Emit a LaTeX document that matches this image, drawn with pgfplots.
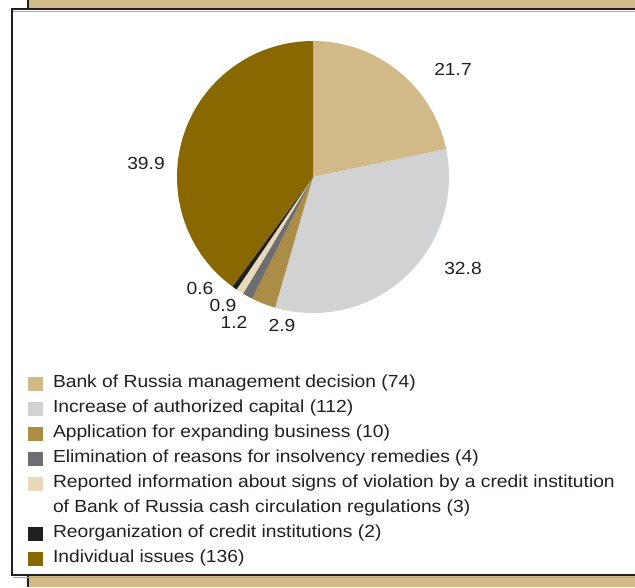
\documentclass[border=0pt]{standalone}
\usepackage{fontspec}
\setmainfont{Liberation Sans}[FakeStretch=1.1]
\usepackage{pgfplots}
\pgfplotsset{compat=1.18}
\definecolor{cA}{HTML}{D2B988}
\definecolor{cB}{HTML}{D1D2D4}
\definecolor{cC}{HTML}{AB8D47}
\definecolor{cD}{HTML}{6D6E71}
\definecolor{cE}{HTML}{E6DABB}
\definecolor{cF}{HTML}{231F20}
\definecolor{cG}{HTML}{896800}
\definecolor{bgtan}{HTML}{D1B988}
\definecolor{dark}{HTML}{231F20}
\begin{document}
\begin{tikzpicture}[x=1pt,y=1pt]
\useasboundingbox (0,0) rectangle (635,-587);
\clip (0,0) rectangle (635,-587);
\fill[white] (0,0) rectangle (635,-587);
\fill[bgtan] (28,0) rectangle (660,-587);
\draw[line width=1.2pt, dark] (28,0) -- (28,-587);
\fill[white] (12,-9) rectangle (660,-575);
\draw[line width=0.8pt, black!35] (13,-11.2) -- (660,-11.2);
\draw[line width=0.8pt, black!35] (13,-577.2) -- (660,-577.2);
\draw[line width=2pt, dark] (12,-9) rectangle (660,-575);
\begin{axis}[
  at={(313,-177)}, anchor=origin,
  x=1pt, y=1pt,
  xmin=-313, xmax=322, ymin=-410, ymax=177,
  hide axis, clip=false,
  legend cell align=left,
  legend image code/.code={\fill[#1, draw=none] (0pt,-7pt) rectangle (15pt,7pt);},
  legend style={at={(0.0441,0.3595)}, anchor=north west, draw=none, fill=none,
    inner sep=0pt, outer sep=0pt, row sep=9pt,
    font=\fontsize{17.5}{20}\selectfont,
    nodes={inner sep=0pt, text height=12pt, text depth=4pt, text=dark},
    /tikz/every odd column/.append style={column sep=10pt}},
]
\gdef\pieStart{90}
\foreach \v/\c in {21.7/cA, 32.8/cB, 2.9/cC, 1.2/cD, 0.9/cE, 0.6/cF, 39.9/cG} {
  \pgfmathsetmacro\pieEnd{\pieStart-3.6*\v}
  \edef\temp{\noexpand\fill[\c] (axis cs:0,0) -- (axis cs:{136*cos(\pieStart)},{136*sin(\pieStart)}) arc[start angle=\pieStart, end angle=\pieEnd, radius=136pt] -- cycle;}
  \temp
  \global\let\pieStart\pieEnd
}
\begin{scope}[every node/.style={font=\fontsize{17.5}{20}\selectfont, text=dark}]
\node at (axis cs:140,108) {21.7};
\node at (axis cs:150,-91) {32.8};
\node at (axis cs:-167,14) {39.9};
\node at (axis cs:-113,-111) {0.6};
\node at (axis cs:-90,-128) {0.9};
\node at (axis cs:-79,-145) {1.2};
\node at (axis cs:-31,-148) {2.9};
\end{scope}
\addlegendimage{fill=cA}
\addlegendentry{Bank of Russia management decision (74)}
\addlegendimage{fill=cB}
\addlegendentry{Increase of authorized capital (112)}
\addlegendimage{fill=cC}
\addlegendentry{Application for expanding business (10)}
\addlegendimage{fill=cD}
\addlegendentry{Elimination of reasons for insolvency remedies (4)}
\addlegendimage{fill=cE}
\addlegendentry{Reported information about signs of violation by a credit institution}
\addlegendimage{empty legend}
\addlegendentry{of Bank of Russia cash circulation regulations (3)}
\addlegendimage{fill=cF}
\addlegendentry{Reorganization of credit institutions (2)}
\addlegendimage{fill=cG}
\addlegendentry{Individual issues (136)}
\end{axis}
\end{tikzpicture}
\end{document}
